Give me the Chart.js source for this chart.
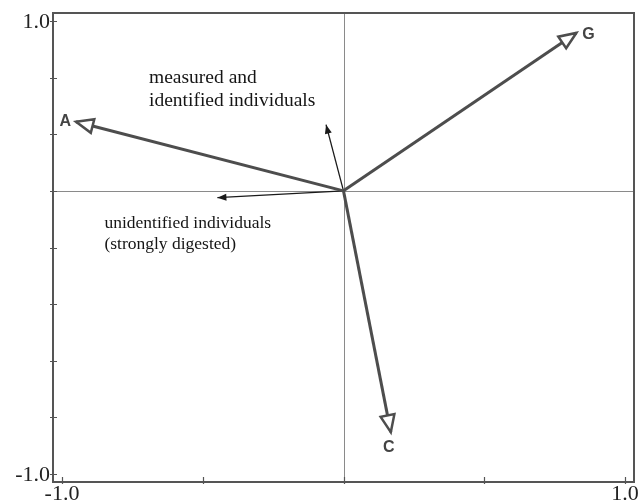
<!DOCTYPE html>
<html lang="en">
<head>
  <meta charset="UTF-8">
  <title>Ordination biplot</title>
  <script src="https://cdn.jsdelivr.net/npm/chart.js"></script>
  <style>
    body { margin: 0; background: #fff; }
  </style>
</head>
<body>
  <canvas id="biplot" width="642" height="502"></canvas>

  <script>
    // main vectors
    const vectorNames = ['A', 'G', 'C'];
    const vectorX = [-0.95, 0.827, 0.168];
    const vectorY = [0.555, 0.947, -0.815];

    // supplementary (thin) vectors
    const supplNames = [
      ['measured and', 'identified individuals'],
      ['unidentified individuals', '(strongly digested)']
    ];
    const supplX = [-0.062, -0.448];
    const supplY = [0.542, 0.22];

    // where the reference lines cross
    const originX = 0;
    const originY = 0.25;

    const xTicks = [-1, -0.5, 0, 0.5, 1];
    const yTicks = [-1, -0.75, -0.5, -0.25, 0, 0.25, 0.5, 0.75, 1];
    const xTickLabels = ['-1.0', '', '', '', '1.0'];
    const yTickLabels = ['-1.0', '', '', '', '', '', '', '', '1.0'];

    const datasets = [];
    vectorNames.forEach((name, i) => {
      datasets.push({
        label: name,
        data: [{ x: originX, y: originY }, { x: vectorX[i], y: vectorY[i] }],
        showLine: true,
        borderColor: '#4d4d4d',
        borderWidth: 3,
        pointRadius: 0,
        kind: 'main'
      });
    });
    supplNames.forEach((name, i) => {
      datasets.push({
        label: name.join(' '),
        data: [{ x: originX, y: originY }, { x: supplX[i], y: supplY[i] }],
        showLine: true,
        borderColor: '#1a1a1a',
        borderWidth: 1.3,
        pointRadius: 0,
        kind: 'suppl'
      });
    });

    function shorten(p0, p1, len) {
      const dx = p1.x - p0.x, dy = p1.y - p0.y;
      const d = Math.sqrt(dx * dx + dy * dy);
      return { x: p1.x - dx / d * len, y: p1.y - dy / d * len, ux: dx / d, uy: dy / d };
    }

    const biplotDecor = {
      id: 'biplotDecor',
      beforeDatasetsDraw(chart) {
        const { ctx, chartArea: a, scales: { x, y } } = chart;
        ctx.save();
        // reference lines
        ctx.strokeStyle = '#8a8a8a';
        ctx.lineWidth = 1;
        const cx = Math.round(x.getPixelForValue(originX)) + 0.5;
        const cy = Math.round(y.getPixelForValue(originY)) + 0.5;
        ctx.beginPath();
        ctx.moveTo(cx, a.top); ctx.lineTo(cx, a.bottom);
        ctx.moveTo(a.left, cy); ctx.lineTo(a.right, cy);
        ctx.stroke();
        ctx.restore();
      },
      afterDatasetsDraw(chart) {
        const { ctx, chartArea: a, scales: { x, y } } = chart;
        ctx.save();

        // arrowheads
        chart.data.datasets.forEach((ds, i) => {
          const pts = chart.getDatasetMeta(i).data;
          const p0 = pts[0], p1 = pts[1];
          if (ds.kind === 'main') {
            const L = 17, W = 7;
            const b = shorten(p0, p1, L);
            ctx.beginPath();
            ctx.moveTo(p1.x, p1.y);
            ctx.lineTo(b.x - b.uy * W, b.y + b.ux * W);
            ctx.lineTo(b.x + b.uy * W, b.y - b.ux * W);
            ctx.closePath();
            ctx.fillStyle = '#fff';
            ctx.fill();
            ctx.strokeStyle = '#4d4d4d';
            ctx.lineWidth = 2.5;
            ctx.lineJoin = 'miter';
            ctx.stroke();
          } else {
            const L = 9, W = 3.5;
            const b = shorten(p0, p1, L);
            ctx.beginPath();
            ctx.moveTo(p1.x, p1.y);
            ctx.lineTo(b.x - b.uy * W, b.y + b.ux * W);
            ctx.lineTo(b.x + b.uy * W, b.y - b.ux * W);
            ctx.closePath();
            ctx.fillStyle = '#1a1a1a';
            ctx.fill();
          }
        });

        // vector labels
        ctx.fillStyle = '#444';
        ctx.font = 'bold 16px "Liberation Sans", Arial, sans-serif';
        ctx.textBaseline = 'middle';
        const m0 = chart.getDatasetMeta(0).data[1];
        ctx.textAlign = 'right';
        ctx.fillText(vectorNames[0], m0.x - 5, m0.y);
        const m1 = chart.getDatasetMeta(1).data[1];
        ctx.textAlign = 'left';
        ctx.fillText(vectorNames[1], m1.x + 6, m1.y + 2);
        const m2 = chart.getDatasetMeta(2).data[1];
        ctx.textAlign = 'center';
        ctx.fillText(vectorNames[2], m2.x - 2, m2.y + 15);

        // supplementary labels
        ctx.fillStyle = '#151515';
        ctx.textAlign = 'left';
        ctx.textBaseline = 'alphabetic';
        ctx.font = '19.5px "Liberation Serif", "Times New Roman", serif';
        const s0 = chart.getDatasetMeta(3).data[1];
        supplNames[0].forEach((t, k) => ctx.fillText(t, s0.x - 177, s0.y - 42 + k * 23));
        ctx.font = '17.5px "Liberation Serif", "Times New Roman", serif';
        const s1 = chart.getDatasetMeta(4).data[1];
        supplNames[1].forEach((t, k) => ctx.fillText(t, s1.x - 113, s1.y + 30 + k * 21));

        // frame
        ctx.strokeStyle = '#555';
        ctx.lineWidth = 2;
        ctx.strokeRect(a.left, a.top, a.right - a.left, a.bottom - a.top);

        // ticks
        ctx.lineWidth = 1.2;
        ctx.beginPath();
        yTicks.forEach(v => {
          const py = Math.round(y.getPixelForValue(v)) + 0.5;
          ctx.moveTo(a.left - 3, py); ctx.lineTo(a.left + 4, py);
        });
        xTicks.forEach(v => {
          const px = Math.round(x.getPixelForValue(v)) + 0.5;
          ctx.moveTo(px, a.bottom + 2); ctx.lineTo(px, a.bottom - 5);
        });
        ctx.stroke();

        // tick labels
        ctx.fillStyle = '#222';
        ctx.font = '22px "Liberation Serif", "Times New Roman", serif';
        ctx.textAlign = 'right';
        ctx.textBaseline = 'middle';
        yTicks.forEach((v, k) => {
          if (yTickLabels[k]) ctx.fillText(yTickLabels[k], a.left - 3, y.getPixelForValue(v) + 1);
        });
        ctx.textAlign = 'center';
        ctx.textBaseline = 'alphabetic';
        xTicks.forEach((v, k) => {
          if (xTickLabels[k]) ctx.fillText(xTickLabels[k], x.getPixelForValue(v), a.bottom + 18);
        });
        ctx.restore();
      }
    };

    new Chart(document.getElementById('biplot'), {
      type: 'scatter',
      data: { datasets: datasets },
      options: {
        responsive: false,
        animation: false,
        devicePixelRatio: 1,
        layout: { padding: { left: 53, right: 8, top: 13, bottom: 20 } },
        plugins: {
          legend: { display: false },
          tooltip: { enabled: false }
        },
        scales: {
          x: { type: 'linear', min: -1.032, max: 1.032, display: false },
          y: { type: 'linear', min: -1.035, max: 1.035, display: false }
        }
      },
      plugins: [biplotDecor]
    });
  </script>
</body>
</html>
